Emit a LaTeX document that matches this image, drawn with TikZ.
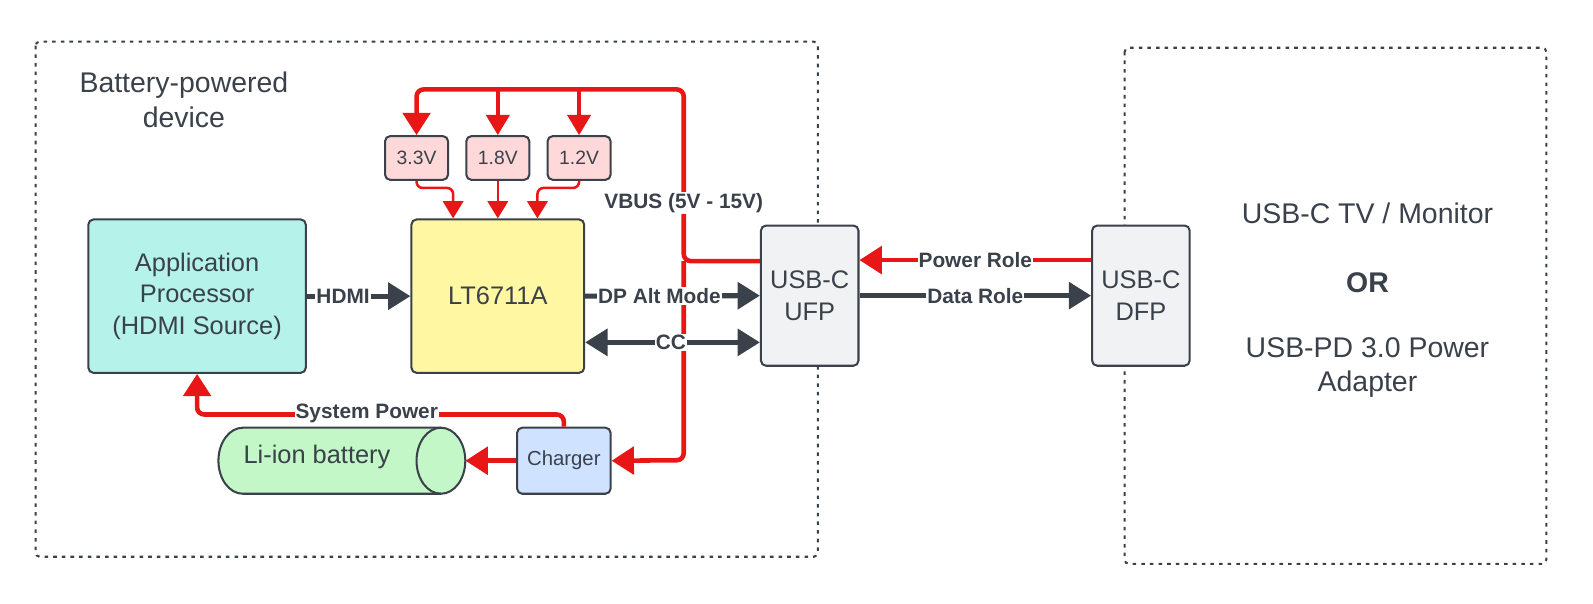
\documentclass[tikz,border=0pt]{standalone}
\usepackage{fontspec}
\setmainfont{Liberation Sans}
\usetikzlibrary{arrows.meta}
\definecolor{ink}{HTML}{3A414A}
\definecolor{pwr}{HTML}{E81616}
\definecolor{teal}{HTML}{B5F3EA}
\definecolor{yel}{HTML}{FFF7A1}
\definecolor{pinkf}{HTML}{FFD9D9}
\definecolor{greyf}{HTML}{F1F2F4}
\definecolor{bluef}{HTML}{CFE2FF}
\definecolor{greenf}{HTML}{C3F7C8}
\tikzset{
  box/.style={draw=ink, line width=2pt, rounded corners=5pt, text=ink, align=center, inner sep=0pt, font=\fontsize{25}{31}\selectfont},
  regbox/.style={box, fill=pinkf, minimum width=62pt, minimum height=43pt, font=\fontsize{19}{22}\selectfont},
  lbl/.style={fill=white, text=ink, font=\bfseries\fontsize{20.5}{24}\selectfont, inner sep=1pt},
  bigtxt/.style={text=ink, align=center, font=\fontsize{28}{34}\selectfont},
  frame/.style={draw=ink, line width=2pt, dash pattern=on 3.5pt off 5pt, rounded corners=4pt},
  garrow/.style={draw=ink, line width=5pt, -{Triangle[length=22pt,width=26pt]}},
  gboth/.style={draw=ink, line width=5pt, {Triangle[length=22pt,width=26pt]}-{Triangle[length=22pt,width=26pt]}},
  rmain/.style={draw=pwr, line width=4.5pt, rounded corners=7pt, -{Triangle[length=22pt,width=27pt]}},
  rbranch/.style={draw=pwr, line width=3.5pt, -{Triangle[length=20pt,width=23pt]}},
  rthin/.style={draw=pwr, line width=2.5pt, rounded corners=6pt, -{Triangle[length=17pt,width=20pt]}}
}
\begin{document}
\begin{tikzpicture}[x=1pt,y=-1pt]
\useasboundingbox (0,0) rectangle (1568,594);
% frames
\draw[frame] (35,41) rectangle (805,548);
\draw[frame] (1107,47) rectangle (1522,555);
\node[bigtxt] (devlbl) at (181,98) {Battery-powered\\device};
\node[bigtxt] (tv) at (1346,210) {USB-C TV / Monitor};
\node[bigtxt, font=\bfseries\fontsize{28}{34}\selectfont] (orl) at (1346,278) {OR};
\node[bigtxt, font=\fontsize{28}{33}\selectfont] (pd) at (1346,362) {USB-PD 3.0 Power\\Adapter};
% boxes
\node[box, fill=teal, minimum width=214pt, minimum height=151pt] (ap) at (194,291.5) {Application\\Processor\\(HDMI Source)};
\node[box, fill=yel, minimum width=170pt, minimum height=151pt] (lt) at (490,291.5) {LT6711A};
\node[regbox] (r33) at (410,155.5) {3.3V};
\node[regbox] (r18) at (490,155.5) {1.8V};
\node[regbox] (r12) at (570,155.5) {1.2V};
\node[box, fill=greyf, minimum width=96pt, minimum height=138pt] (ufp) at (797,291) {USB-C\\UFP};
\node[box, fill=greyf, minimum width=96pt, minimum height=138pt] (dfp) at (1123,291) {USB-C\\DFP};
\node[box, fill=bluef, minimum width=92pt, minimum height=65pt, font=\fontsize{20}{24}\selectfont] (chg) at (555,453.5) {Charger};
% battery cylinder
\fill[greenf] (239,421) rectangle (434,486);
\fill[greenf] (239,453.5) ellipse [x radius=24pt, y radius=32.5pt];
\fill[greenf] (434,453.5) ellipse [x radius=24pt, y radius=32.5pt];
\draw[ink, line width=2pt] (434,421) -- (239,421) arc[start angle=90, end angle=270, x radius=24pt, y radius=32.5pt] -- (434,486);
\draw[ink, line width=2pt] (434,453.5) ellipse [x radius=24pt, y radius=32.5pt];
\node[minimum width=243pt, minimum height=65pt, inner sep=0pt] (bat) at (336.5,453.5) {};
\node[text=ink, font=\fontsize{25}{30}\selectfont] (battxt) at (312,450) {Li-ion battery};
% red power lines
\draw[rmain] (ufp.west |- 0,257) -- (673,257) -- (673,88) -- (410,88) -- (r33.north);
\draw[rmain] (673,257) -- (673,453) -- (chg.east);
\draw[rbranch] (490,88) -- (r18.north);
\draw[rbranch] (570,88) -- (r12.north);
\draw[rthin] (r33.south) |- (446,185) -- (lt.north -| 446,0);
\draw[rthin, rounded corners=0pt] (r18.south) -- (lt.north);
\draw[rthin] (r12.south) |- (529,185) -- (lt.north -| 529,0);
\draw[rmain] (chg.north) |- (ap.south |- 0,408) -- (ap.south);
\draw[rmain] (chg.west) -- (bat.east);
\draw[rmain, rounded corners=0pt] (dfp.west |- 0,256) -- node[lbl] (prl) {Power Role} (ufp.east |- 0,256);
\node[lbl] (sysl) at (361,407) {System Power};
\node[lbl] (vbusl) at (673,200) {VBUS (5V - 15V)};
% grey data lines
\draw[garrow] (ap.east) -- node[lbl, pos=0.35] (hdmil) {HDMI} (lt.west);
\draw[garrow] (lt.east) -- node[lbl, pos=0.425] (dpl) {DP Alt Mode} (ufp.west);
\draw[gboth] (lt.east |- 0,337) -- node[lbl, pos=0.49] (ccl) {CC} (ufp.west |- 0,337);
\draw[garrow] (ufp.east) -- node[lbl] (drl) {Data Role} (dfp.west);
\end{tikzpicture}
\end{document}
